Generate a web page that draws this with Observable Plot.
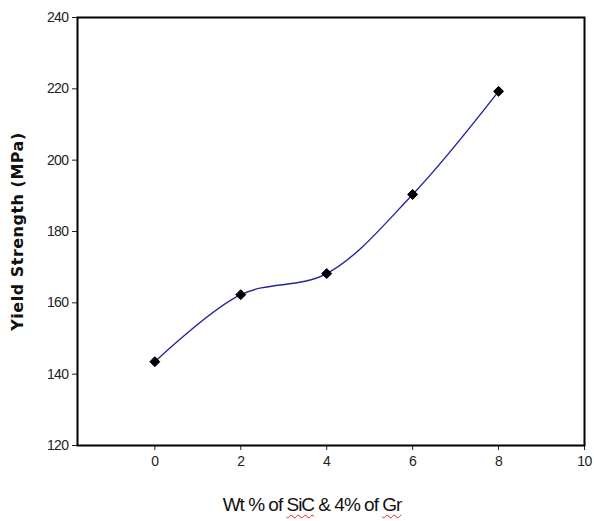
<!DOCTYPE html>
<html>
<head>
<meta charset="utf-8">
<script src="https://cdn.jsdelivr.net/npm/d3@7"></script>
<script src="https://cdn.jsdelivr.net/npm/@observablehq/plot@0.6"></script>
<style>
  html, body { margin: 0; padding: 0; background: #fff; }
  #wrap { position: relative; width: 594px; height: 521px; }
  #xlabel { position: absolute; left: 15px; width: 594px; top: 494px; text-align: center;
    font-family: "Liberation Sans Narrow", "Arial Narrow", "Liberation Sans", sans-serif; font-size: 19px;
    letter-spacing: -1px; color: #111; }
  .sq { text-decoration: underline wavy #d22; text-decoration-thickness: 1px; text-underline-offset: 3px; }
  g[aria-label="text"] text { letter-spacing: 0.5px; }
</style>
</head>
<body>
<div id="wrap"></div>
<script>
const wtPercent = [0, 2, 4, 6, 8];
const yieldStrength = [143.5, 162.3, 168.2, 190.4, 219.3];
const xTicks = [0, 2, 4, 6, 8, 10];
const yTicks = [120, 140, 160, 180, 200, 220, 240];
const yLabel = "Yield Strength (MPa)";

const data = wtPercent.map((x, i) => ({x, y: yieldStrength[i]}));

const chart = Plot.plot({
  width: 594,
  height: 521,
  marginLeft: 77,
  marginRight: 10,
  marginTop: 17,
  marginBottom: 76,
  style: {fontFamily: '"Liberation Sans Narrow", "Arial Narrow", "Liberation Sans", sans-serif', fontSize: "14px", color: "#222", background: "#fff", letterSpacing: "-0.6px"},
  x: {domain: [-1.8, 10]},
  y: {domain: [120, 240]},
  marks: [
    Plot.axisY({ticks: yTicks, tickSize: 5, tickPadding: 4, label: null, fontSize: 14}),
    Plot.axisX({ticks: xTicks, tickSize: 5, tickPadding: 6, label: null, fontSize: 14}),
    Plot.frame({stroke: "#000", strokeWidth: 2}),
    Plot.line(data, {x: "x", y: "y", curve: "catmull-rom", stroke: "#2525a0", strokeWidth: 1.4}),
    Plot.dot(data, {x: "x", y: "y", symbol: "diamond2", r: 4.5, fill: "#000", stroke: "#000", strokeWidth: 1, strokeLinejoin: "round"}),
    Plot.text([yLabel], {frameAnchor: "left", textAnchor: "middle", dx: -60, rotate: -90, fontWeight: "bold", fontSize: 16,
      fontFamily: '"DejaVu Sans", "Liberation Sans", Arial, sans-serif', fill: "#111"})
  ]
});
const wrap = document.getElementById("wrap");
wrap.appendChild(chart);
const xl = document.createElement("div");
xl.id = "xlabel";
xl.innerHTML = 'Wt % of <span class="sq">SiC</span> &amp; 4% of <span class="sq">Gr</span>';
wrap.appendChild(xl);
</script>
</body>
</html>
